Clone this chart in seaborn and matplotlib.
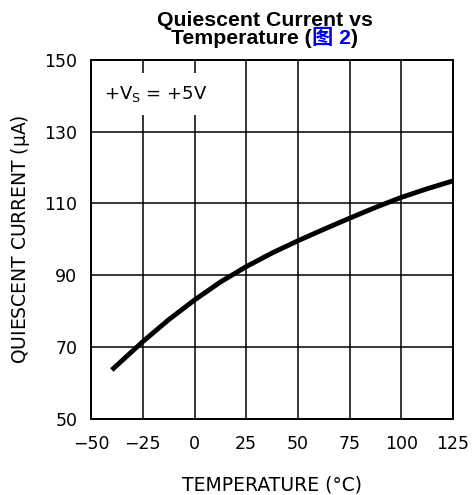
import numpy as np
import matplotlib
matplotlib.use("Agg")
import matplotlib.pyplot as plt
import seaborn as sns
import pandas as pd

# Data
temperature = [-40, -25, -12.5, 0, 12.5, 25, 37.5, 50, 62.5, 75, 87.5, 100, 112.5, 125]
current_ua = [63.6, 71.5, 77.6, 83.1, 88.1, 92.4, 96.2, 99.6, 102.8, 105.9, 108.9, 111.7, 114.1, 116.3]

x_ticks = [-50, -25, 0, 25, 50, 75, 100, 125]
y_ticks = [50, 70, 90, 110, 130, 150]

df = pd.DataFrame({"temp": temperature, "iq": current_ua})

sns.set_style("white")
plt.rcParams['font.family'] = ['DejaVu Sans', 'Noto Sans CJK SC']
plt.rcParams['mathtext.default'] = 'regular'
plt.rcParams['text.color'] = 'black'
plt.rcParams['axes.labelcolor'] = 'black'
plt.rcParams['xtick.color'] = 'black'
plt.rcParams['ytick.color'] = 'black'

fig = plt.figure(figsize=(4.72, 4.95), dpi=100)
ax = fig.add_axes([0.193, 0.154, 0.767, 0.725])

sns.lineplot(data=df, x="temp", y="iq", ax=ax, color="black", linewidth=3.5,
             solid_capstyle="butt", solid_joinstyle="round", zorder=3)

ax.set_xlim(-50, 125)
ax.set_ylim(50, 150)
ax.set_xticks(x_ticks)
ax.set_yticks(y_ticks)
ax.set_xticklabels([str(v).replace("-", "\u2212") for v in x_ticks], fontsize=12.5)
ax.set_yticklabels([str(v) for v in y_ticks], fontsize=12.5)
ax.tick_params(axis="both", length=0)
ax.tick_params(axis="x", pad=12)
ax.tick_params(axis="y", pad=10)
ax.grid(True, color="black", linewidth=1.1)
for s in ax.spines.values():
    s.set_color("black")
    s.set_linewidth(1.4)
    s.set_zorder(4)

ax.set_xlabel("TEMPERATURE (°C)", fontsize=13.5, labelpad=16)
ax.set_ylabel("QUIESCENT CURRENT ($\\mu$A)", fontsize=13.5, labelpad=9)

ax.text(-44, 140.5, "+V$_S$ = +5V", fontsize=13, ha="left", va="center", zorder=5,
        bbox=dict(facecolor="white", edgecolor="none", pad=8))

# Title, second line has a blue part
title_font = dict(fontsize=15.3, fontweight="bold", family=['Liberation Sans', 'Noto Sans CJK SC'])
cx = 0.561
fig.text(cx, 1 - 26 / 495, "Quiescent Current vs", ha="center", va="baseline", **title_font)
parts = [("Temperature (", "black"), ("图 2", "#0000ee"), (")", "black")]
texts = [fig.text(0, 1 - 44 / 495, p, ha="left", va="baseline", color=c, **title_font)
         for p, c in parts]
fig.canvas.draw()
renderer = fig.canvas.get_renderer()
widths = [t.get_window_extent(renderer).width / fig.bbox.width for t in texts]
x0 = cx - sum(widths) / 2
for t, w in zip(texts, widths):
    t.set_x(x0)
    x0 += w

fig.savefig("out.png", dpi=100)
